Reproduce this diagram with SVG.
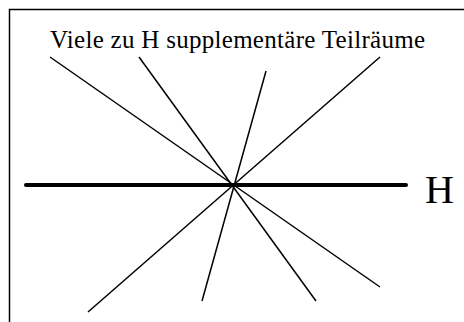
<svg xmlns="http://www.w3.org/2000/svg" width="464" height="322" viewBox="0 0 464 322">
<style>
.t{font-family:"Liberation Serif","Times New Roman",serif;fill:#000}
.l{stroke:#000;stroke-width:1.5;fill:none}
</style>
<rect x="0" y="0" width="464" height="322" fill="#fff"/>
<rect x="9.5" y="9.5" width="480" height="340" fill="none" stroke="#000" stroke-width="1.5"/>
<g id="connectors">
<line class="l" x1="50" y1="57" x2="380" y2="287"/>
<line class="l" x1="139" y1="57" x2="316" y2="301"/>
<line class="l" x1="266" y1="71" x2="202" y2="301"/>
<line class="l" x1="380" y1="57" x2="88" y2="312"/>
</g>
<g id="H-line">
<line x1="26" y1="185" x2="406" y2="185" stroke="#000" stroke-width="4" stroke-linecap="round"/>
<text class="t" x="425" y="203" font-size="40">H</text>
</g>
<g id="title">
<text class="t" x="50" y="48" font-size="25" textLength="375" lengthAdjust="spacing">Viele zu H supplementäre Teilräume</text>
</g>
</svg>
